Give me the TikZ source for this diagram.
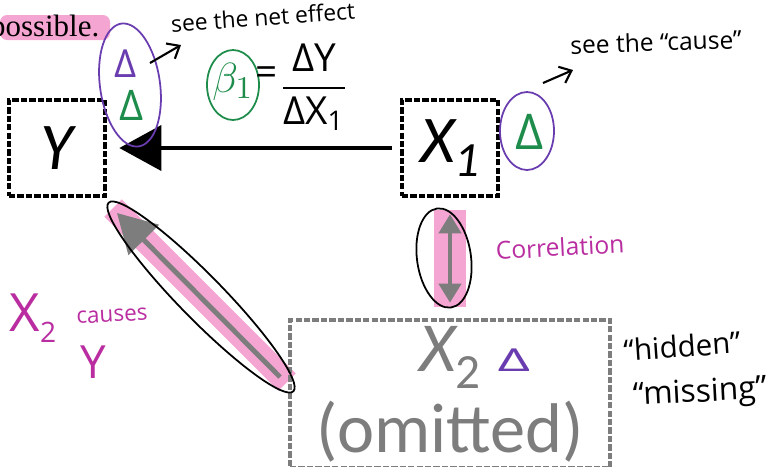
\documentclass[tikz,border=0pt]{standalone}
\usepackage{fontspec}
\newfontfamily\boxfont{Carlito}
\newfontfamily\hand{Open Sans}
\newfontfamily\docfont{Liberation Serif}
\usetikzlibrary{arrows.meta}
\definecolor{hlpink}{RGB}{245,165,210}
\definecolor{inkmag}{RGB}{185,45,160}
\definecolor{inkpurple}{RGB}{105,60,175}
\definecolor{inkgreen}{RGB}{30,140,75}
\definecolor{boxgray}{RGB}{125,125,125}

\begin{document}
\begin{tikzpicture}[
  x=0.01cm, y=-0.01cm,
  varbox/.style={draw, line width=1.3pt, dash pattern=on 1.8pt off 0.6pt,
    minimum width=0.96cm, minimum height=0.96cm, inner sep=0pt,
    font=\boxfont\itshape\fontsize{19}{19}\selectfont},
  omitbox/.style={draw=boxgray, text=boxgray, line width=1.3pt,
    dash pattern=on 1.8pt off 0.6pt, minimum width=3.2cm, minimum height=1.48cm,
    inner sep=0pt, align=center, font=\boxfont\fontsize{20}{23}\selectfont},
  ink/.style={font=\hand\fontsize{#1}{#1}\selectfont, inner sep=0pt},
  loop/.style={line width=0.5pt},
  note/.style={line width=0.6pt, -{Straight Barb[length=3pt,width=5pt]}},
  hilite/.style={hlpink, line cap=butt}
]
  \useasboundingbox (0,0) rectangle (766,466);
  \clip (0,0) rectangle (766,466);

  % highlights
  \fill[hlpink, rounded corners=2pt] (0,15) rectangle (110,40);
  \node[font=\docfont\fontsize{8.8}{8.8}\selectfont, anchor=base east, inner sep=0pt]
    (prev) at (100,36) {possible.};
  \coordinate (ytip) at (117,213);
  \coordinate (xtail) at (280,377);
  \draw[hilite, line width=7pt] (113,208) -- (287,382);
  \draw[hilite, line width=9pt] (450,210) -- (450,307);

  % variables
  \node[varbox] (y) at (57,148) {Y};
  \node[varbox] (xone) at (450,148) {X\raisebox{-0.45ex}{\fontsize{14}{14}\selectfont 1}};
  \node[omitbox] (xtwo) at (450,394)
    {{\itshape X}\raisebox{-0.5ex}{\fontsize{14}{14}\selectfont 2}\\(omitted)};

  % arrows
  \draw[line width=1.1pt, -{Triangle[length=0.42cm,width=0.45cm]},
    shorten <=0.08cm, shorten >=0.12cm] (xone) -- (y);
  \draw[boxgray, line width=1.4pt, -{Triangle[length=0.38cm,width=0.42cm]}] (xtail) -- (ytip);
  \draw[boxgray, line width=1.2pt, {Triangle[length=0.19cm,width=0.22cm]}-{Triangle[length=0.19cm,width=0.22cm]},
    shorten <=0.16cm, shorten >=0.15cm] (xone.south) -- (xtwo.north);

  % loops round the arrows
  \draw[loop, rotate around={-45.6:(201,297)}] (201,297) ellipse [x radius=132, y radius=22];
  \draw[loop, rotate around={8:(444,258)}] (444,258) ellipse [x radius=27, y radius=50];

  % beta
  \node[inkgreen, font=\fontsize{13}{13}\selectfont, inner sep=0pt] (beta) at (233,82) {$\beta_1$};
  \draw[inkgreen, loop] (233,85) ellipse [x radius=26, y radius=35];
  \node[ink=11] (eq) at (267,76) {=};
  \node[ink=11] (ratio) at (314,87)
    {$\displaystyle\frac{\mbox{\hand ΔY}}{\mbox{\hand ΔX\textsubscript{1}}}$};

  % deltas
  \node[ink=11, text=inkpurple] (dpy) at (126,64) {Δ};
  \node[ink=12, text=inkgreen] (dgy) at (132,105) {Δ};
  \draw[inkpurple, loop, rotate around={8:(130,85)}] (130,85) ellipse [x radius=30, y radius=62];
  \node[ink=14, text=inkgreen] (dgx) at (530,132) {Δ};
  \draw[inkpurple, loop] (527,131) ellipse [x radius=27, y radius=39];
  \node[ink=9, text=inkpurple] (dpx) at (514,360) {\scalebox{1.8}[1]{Δ}};

  % notes
  \node[ink=6.5, rotate=4] (neteffect) at (263,17) {see the net effect};
  \coordinate (na) at (150,63);
  \coordinate (nb) at (181,45);
  \draw[note] (na) -- (nb);
  \node[ink=7, rotate=2] (cause) at (656,42) {see the “cause”};
  \coordinate (ca) at (543,83);
  \coordinate (cb) at (573,70);
  \draw[note] (ca) -- (cb);
  \node[ink=7, text=inkmag, rotate=3] (corr) at (560,247) {Correlation};
  \node[ink=15, text=inkmag] (xcause) at (33,318) {X\raisebox{-0.4ex}{\fontsize{8}{8}\selectfont 2}};
  \node[ink=6.4, text=inkmag, rotate=3] (causes) at (112,316) {causes};
  \node[ink=13, text=inkmag] (ycause) at (93,362) {Y};
  \node[ink=8.4, rotate=4] (hidden) at (682,346) {“hidden”};
  \node[ink=9, rotate=3] (missing) at (700,394) {“missing”};
\end{tikzpicture}
\end{document}
